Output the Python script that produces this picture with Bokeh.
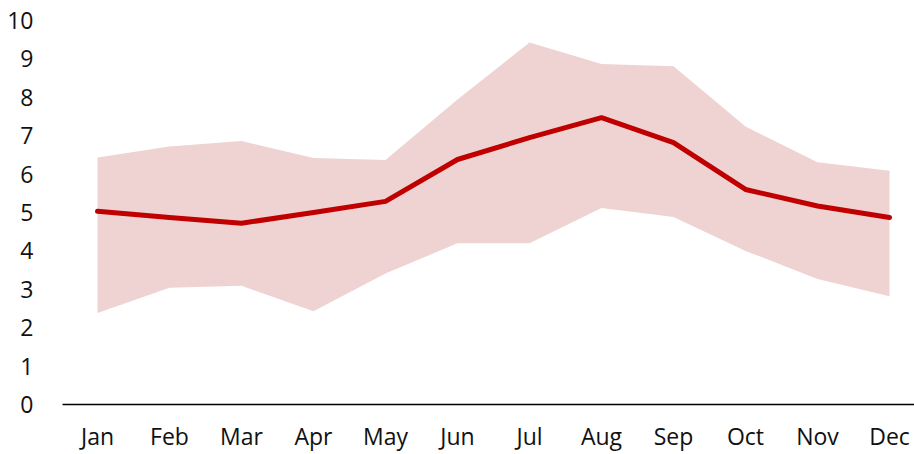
from bokeh.plotting import figure
from bokeh.models import Range1d, FixedTicker, ColumnDataSource
from bokeh.embed import file_html
from bokeh.resources import INLINE

months = ["Jan", "Feb", "Mar", "Apr", "May", "Jun", "Jul", "Aug", "Sep", "Oct", "Nov", "Dec"]
mean_vals = [5.03, 4.87, 4.72, 5.0, 5.29, 6.38, 6.95, 7.47, 6.82, 5.6, 5.17, 4.87]
upper_vals = [6.43, 6.72, 6.86, 6.42, 6.37, 7.94, 9.43, 8.87, 8.81, 7.24, 6.31, 6.09]
lower_vals = [2.38, 3.04, 3.09, 2.43, 3.41, 4.2, 4.2, 5.12, 4.88, 4.0, 3.27, 2.82]
y_ticks = [0, 1, 2, 3, 4, 5, 6, 7, 8, 9, 10]

xs = list(range(len(months)))
src = ColumnDataSource(dict(x=xs, mean=mean_vals, upper=upper_vals, lower=lower_vals))

FONT = "Open Sans"

p = figure(width=914, height=454, output_backend="svg", toolbar_location=None,
           x_range=Range1d(-0.486, 11.347), y_range=Range1d(0, 10),
           min_border_left=62, min_border_right=0, min_border_top=20, min_border_bottom=50)
p.outline_line_color = None
p.xgrid.visible = False
p.ygrid.visible = False
p.background_fill_color = "white"
p.border_fill_color = "white"

p.varea(x="x", y1="lower", y2="upper", source=src, fill_color="#EFD3D3")
p.line(x="x", y="mean", source=src, line_color="#C00000", line_width=5,
       line_join="round", line_cap="round")

xa = p.xaxis[0]
xa.ticker = FixedTicker(ticks=xs)
xa.major_label_overrides = {i: m for i, m in enumerate(months)}
xa.axis_line_color = "black"
xa.axis_line_width = 1.5
xa.major_tick_line_color = None
xa.minor_tick_line_color = None
xa.major_label_standoff = 9
xa.major_label_text_font = FONT
xa.major_label_text_font_size = "23px"
xa.major_label_text_color = "#111111"

ya = p.yaxis[0]
ya.ticker = FixedTicker(ticks=y_ticks)
ya.axis_line_color = None
ya.major_tick_line_color = None
ya.minor_tick_line_color = None
ya.major_label_standoff = 23
ya.major_label_text_font = FONT
ya.major_label_text_font_size = "23px"
ya.major_label_text_color = "#111111"

open("out.html", "w").write(file_html(p, INLINE))
